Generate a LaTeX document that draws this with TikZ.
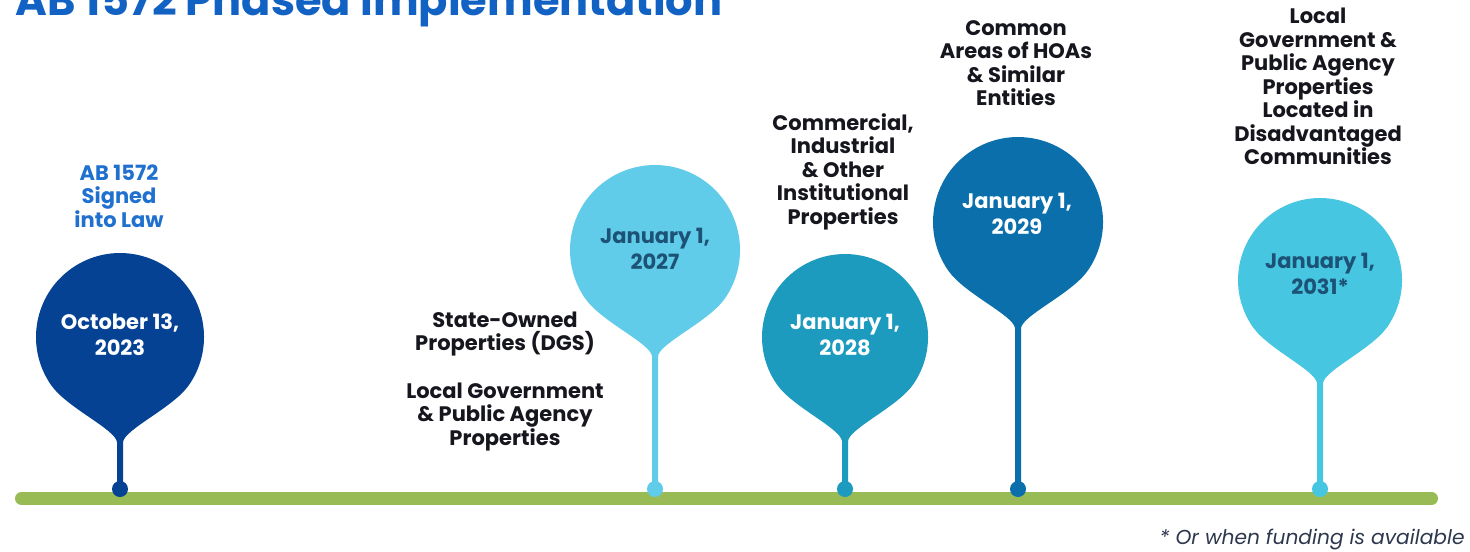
\documentclass[tikz,border=0pt]{standalone}
\usepackage{fontspec}
\setmainfont{Poppins}
\usepackage{graphicx}
\definecolor{titleblue}{RGB}{18,98,196}
\definecolor{lawblue}{RGB}{32,112,208}
\definecolor{barg}{RGB}{152,187,86}
\definecolor{pinA}{RGB}{6,66,148}
\definecolor{pinB}{RGB}{96,204,233}
\definecolor{pinC}{RGB}{28,155,191}
\definecolor{pinD}{RGB}{10,111,171}
\definecolor{pinE}{RGB}{70,198,224}
\definecolor{darkdate}{RGB}{28,82,118}
\definecolor{labeltext}{RGB}{22,22,30}
\definecolor{notetext}{RGB}{45,55,78}
\newcommand{\balloonpin}[4]{%
  \fill[#4] ({#1-3},-489) -- ({#1-3},{-(#2+#3+21)})
    .. controls ({#1-5},{-(#2+#3+8)}) and ({#1-0.819*#3+0.19*#3},{-(#2+0.574*#3+0.27*#3)}) ..
    ({#1-0.819*#3},{-(#2+0.574*#3)})
    arc[start angle=215,end angle=-35,radius=#3]
    .. controls ({#1+0.819*#3-0.19*#3},{-(#2+0.574*#3+0.27*#3)}) and ({#1+5},{-(#2+#3+8)}) ..
    ({#1+3},{-(#2+#3+21)}) -- ({#1+3},-489) -- cycle;
  \fill[#4] (#1,-489) circle[radius=8];
}
\tikzset{
  lbl/.style={inner sep=0pt, align=center, text=labeltext,
    font=\fontsize{10.5}{11.75}\selectfont\bfseries},
  datelbl/.style={inner sep=0pt, align=center,
    font=\fontsize{10.5}{13}\selectfont\bfseries},
}
\begin{document}
\begin{tikzpicture}[x=0.5pt,y=0.5pt]
\useasboundingbox (0,0) rectangle (1470,-551);
\clip (0,0) rectangle (1470,-551);
\fill[white] (0,0) rectangle (1470,-551);
% title
\node[anchor=base west, inner sep=0pt, text=titleblue] (title) at (15,-16)
  {\resizebox{353.5pt}{!}{\bfseries AB 1572 Phased Implementation}};
% bar
\draw[barg, line width=6.5pt, line cap=round] (21.5,-498.5) -- (1431.5,-498.5);
% pins
\balloonpin{120}{337}{84}{pinA}
\balloonpin{655}{250}{85}{pinB}
\balloonpin{845}{337}{83}{pinC}
\balloonpin{1018}{222}{85}{pinD}
\balloonpin{1320}{280}{82}{pinE}
% dates
\node[datelbl, text=white] (d1) at (120,-335) {October 13,\\2023};
\node[datelbl, text=darkdate] (d2) at (655,-249) {January 1,\\2027};
\node[datelbl, text=white] (d3) at (845,-335) {January 1,\\2028};
\node[datelbl, text=white] (d4) at (1017,-214) {January 1,\\2029};
\node[datelbl, text=darkdate] (d5) at (1320,-274) {January 1,\\2031*};
% labels
\node[lbl, text=lawblue] (l1) at (119,-196) {AB 1572\\Signed\\into Law};
\node[lbl] (l2a) at (505,-334) {State-Owned\\Properties (DGS)};
\node[lbl] (l2b) at (505,-417) {Local Government\\\& Public Agency\\Properties};
\node[lbl] (l3) at (843,-171.5) {Commercial,\\Industrial\\\& Other\\Institutional\\Properties};
\node[lbl] (l4) at (1016,-63) {Common\\Areas of HOAs\\\& Similar\\Entities};
\node[lbl] (l5) at (1318,-86.5) {Local\\Government \&\\Public Agency\\Properties\\Located in\\Disadvantaged\\Communities};
% note
\node[anchor=east, inner sep=0pt, text=notetext, font=\fontsize{10.1}{12}\selectfont\itshape] (note) at (1465,-540) {* Or when funding is available};
\end{tikzpicture}
\end{document}
